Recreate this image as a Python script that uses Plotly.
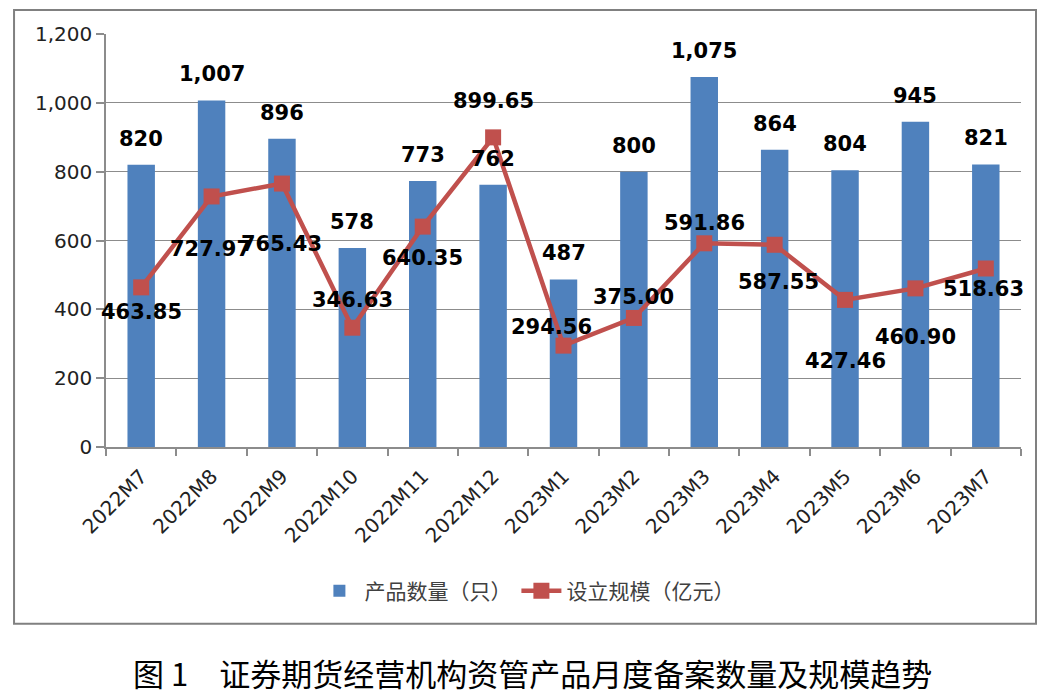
import plotly.graph_objects as go

months = ["2022M7", "2022M8", "2022M9", "2022M10", "2022M11", "2022M12",
          "2023M1", "2023M2", "2023M3", "2023M4", "2023M5", "2023M6", "2023M7"]
product_count = [820, 1007, 896, 578, 773, 762, 487, 800, 1075, 864, 804, 945, 821]
scale_yi = [463.85, 727.97, 765.43, 346.63, 640.35, 899.65, 294.56, 375.00,
            591.86, 587.55, 427.46, 460.90, 518.63]
y_ticks = [0, 200, 400, 600, 800, 1000, 1200]

# label offsets (pixels) for the line labels: (dx, dy) with dy positive = up
line_label_shift = [(0, -25), (-1, -53), (0, -60), (0, 28), (0, -31), (0, 36),
                    (-12, 19), (0, 21), (0, 20), (4, -37), (0, -61), (0, -49), (-2, -20)]

BLUE = "#4F81BD"
RED = "#C0504D"
GRID = "#8C8C8C"

fig = go.Figure()
fig.add_trace(go.Bar(
    x=months, y=product_count, name="产品数量（只）",
    marker=dict(color=BLUE, line=dict(width=0)),
))
fig.add_trace(go.Scatter(
    x=months, y=scale_yi, name="设立规模（亿元）", mode="lines+markers",
    line=dict(color=RED, width=4.5),
    marker=dict(symbol="square", size=16, color=RED),
))

annotations = []
label_font = dict(family="DejaVu Sans", size=21, color="#000000")
for m, v in zip(months, product_count):
    annotations.append(dict(
        x=m, y=v, text=f"<b>{v:,}</b>", showarrow=False,
        yshift=26, font=label_font, xanchor="center", yanchor="middle"))
for m, v, (dx, dy) in zip(months, scale_yi, line_label_shift):
    annotations.append(dict(
        x=m, y=v, text=f"<b>{v:.2f}</b>", showarrow=False,
        xshift=dx, yshift=dy, font=label_font, xanchor="center", yanchor="middle"))

annotations.append(dict(
    xref="paper", yref="paper", x=0.466, y=-0.547,
    text="图 1　证券期货经营机构资管产品月度备案数量及规模趋势",
    showarrow=False, xanchor="center", yanchor="middle",
    font=dict(family="Noto Sans CJK SC", size=31, color="#000000")))

fig.update_layout(
    width=1040, height=688,
    margin=dict(l=98, r=27, t=26, b=249, autoexpand=False),
    paper_bgcolor="white", plot_bgcolor="white",
    bargap=0.61,
    showlegend=True,
    legend=dict(orientation="h", x=0.46, xanchor="center", y=-0.349, yanchor="middle",
                font=dict(family="Noto Sans CJK SC", size=21, color="#404040"),
                itemwidth=40, traceorder="normal"),
    annotations=annotations,
    shapes=[dict(type="rect", xref="paper", yref="paper",
                 x0=-0.1005, x1=1.0164, y0=-0.428, y1=1.058,
                 line=dict(color="#808080", width=2), fillcolor="rgba(0,0,0,0)", layer="below")],
    font=dict(family="DejaVu Sans", color="#222222"),
)
fig.update_xaxes(
    type="category", range=[-0.5, 12.5], tickangle=-45, tickson="boundaries",
    ticks="outside", ticklen=7, tickcolor=GRID, tickwidth=1.5,
    ticklabelstandoff=8,
    showline=True, linecolor=GRID, linewidth=1.5, showgrid=False,
    tickfont=dict(family="DejaVu Sans", size=20, color="#222222"),
)
fig.update_yaxes(
    range=[0, 1200], tickvals=y_ticks, tickformat=",",
    ticks="outside", ticklen=8, tickcolor=GRID, tickwidth=1.5,
    showline=True, linecolor=GRID, linewidth=1.5,
    showgrid=True, gridcolor=GRID, gridwidth=1.2,
    zeroline=False,
    tickfont=dict(family="DejaVu Sans", size=20, color="#222222"),
)

fig.write_html("out.html")
